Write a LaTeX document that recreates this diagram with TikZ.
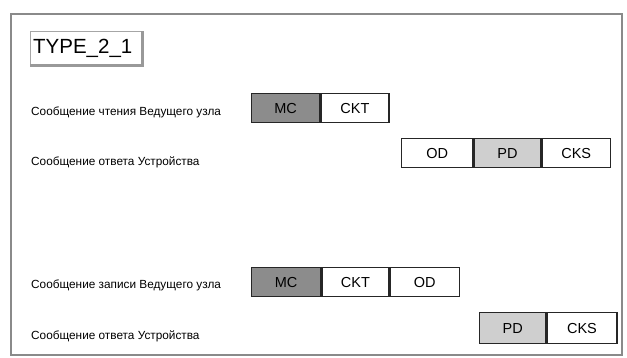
\documentclass[tikz,border=0pt]{standalone}
\usepackage{fontspec}
\setmainfont{Liberation Sans}
\definecolor{mcgray}{HTML}{8C8C8C}
\definecolor{pdgray}{HTML}{CFCFCF}
\definecolor{framegray}{HTML}{8A8A8A}
\begin{document}
\begin{tikzpicture}[x=1pt,y=-1pt,
  field/.style={draw=black!85,line width=1.3pt,minimum height=29pt,inner sep=0pt,font=\fontsize{14.5}{14.5}\selectfont,anchor=north west},
  lbl/.style={anchor=west,inner sep=0pt,font=\fontsize{11.8}{12}\selectfont},
  mcf/.style={fill=mcgray},
  pdf/.style={fill=pdgray}]
\useasboundingbox (0,0) rectangle (627,357);
% outer frame
\draw[framegray,line width=1.6pt] (11,355) -- (11,14) -- (622,14) -- (622,355) -- cycle;
% title box
\node[draw=gray!70,line width=0.6pt,minimum width=113pt,minimum height=35pt,inner sep=0pt,anchor=north west] (title) at (30,31) {};
\node[anchor=west,inner sep=0pt,font=\fontsize{20.5}{20.5}\selectfont] (titletext) at ([xshift=3pt]title.west) {TYPE\_2\_1};
\draw[gray!80,line width=2.5pt] ([xshift=-1pt]title.north east) -- ([xshift=-1pt,yshift=1pt]title.south east) -- ([yshift=1pt]title.south west);
% row 1
\node[lbl] (l1) at (31,112) {Сообщение чтения Ведущего узла};
\node[field,mcf,minimum width=68pt] (mc1) at (251,93) {MC};
\node[field,minimum width=68pt] (ckt1) at (mc1.north east) {CKT};
% row 2
\node[lbl] (l2) at (31,162) {Сообщение ответа Устройства};
\node[field,minimum width=71pt] (od2) at (401,138) {OD};
\node[field,pdf,minimum width=67pt] (pd2) at (od2.north east) {PD};
\node[field,minimum width=68pt] (cks2) at (pd2.north east) {CKS};
% row 3
\node[lbl] (l3) at (31,285) {Сообщение записи Ведущего узла};
\node[field,mcf,minimum width=69pt] (mc3) at (251,267) {MC};
\node[field,minimum width=67pt] (ckt3) at (mc3.north east) {CKT};
\node[field,minimum width=69pt] (od3) at (ckt3.north east) {OD};
% row 4
\node[lbl] (l4) at (31,336) {Сообщение ответа Устройства};
\node[field,pdf,minimum width=66pt,minimum height=31pt] (pd4) at (479,312) {PD};
\node[field,minimum width=70pt,minimum height=31pt] (cks4) at (pd4.north east) {CKS};
\end{tikzpicture}
\end{document}
